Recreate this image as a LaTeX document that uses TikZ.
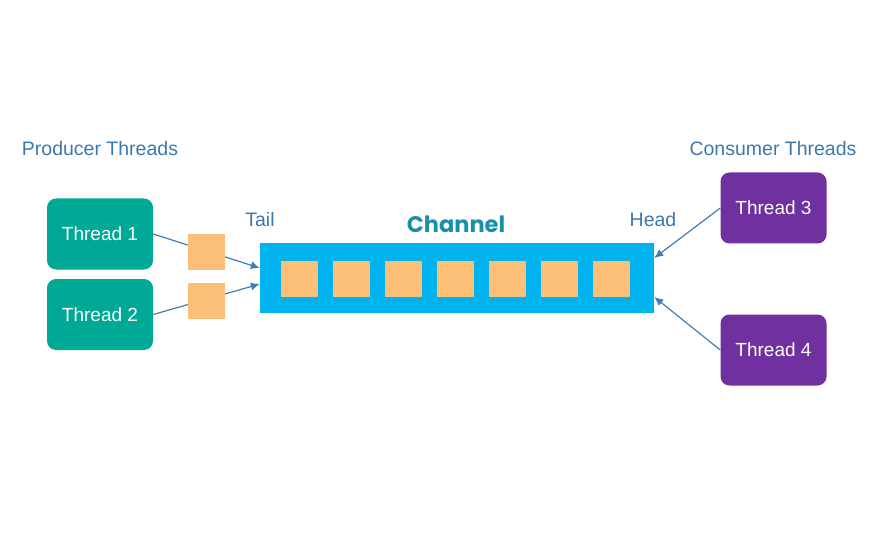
\documentclass[tikz,border=0pt]{standalone}
\usepackage{fontspec}
\setmainfont{Liberation Sans}
\newfontfamily\chfont{Poppins}
\usetikzlibrary{arrows.meta,backgrounds}
\definecolor{tealbox}{HTML}{00A896}
\definecolor{purplebox}{HTML}{7030A0}
\definecolor{chblue}{HTML}{00B2EE}
\definecolor{slot}{HTML}{FBBF78}
\definecolor{labelblue}{HTML}{3A78AF}
\definecolor{arrowblue}{HTML}{3F7DB2}
\definecolor{chtext}{HTML}{1A8FA8}
\tikzset{
  thread/.style={rounded corners=9pt, minimum width=106pt, minimum height=71pt, inner sep=0pt, text=white, font=\fontsize{19pt}{21pt}\selectfont},
  prod/.style={thread, fill=tealbox},
  cons/.style={thread, fill=purplebox},
  slotbox/.style={fill=slot, minimum width=37pt, minimum height=36pt, inner sep=0pt},
  lbl/.style={text=labelblue, font=\fontsize{19.5pt}{21pt}\selectfont, inner sep=0pt},
  conn/.style={draw=arrowblue, line width=1.2pt, -{Latex[length=9pt,width=8pt]}},
}
\begin{document}
\begin{tikzpicture}[x=1pt,y=-1pt]
\useasboundingbox (0,0) rectangle (880,553);
% labels
\node[lbl] (prodlbl) at (100,149) {Producer Threads};
\node[lbl] (conslbl) at (773,149) {Consumer Threads};
\node[lbl] (tail) at (260,220) {Tail};
\node[lbl] (head) at (653,220) {Head};
\node[inner sep=0pt, text=chtext, font=\chfont\bfseries\fontsize{22.5pt}{25pt}\selectfont] (chlbl) at (456,224) {Channel};
% threads
\node[prod] (t1) at (100,234) {Thread 1};
\node[prod] (t2) at (100,314.5) {Thread 2};
\node[cons] (t3) at (773.5,208) {Thread 3};
\node[cons] (t4) at (773.5,350) {Thread 4};
% channel
\node[fill=chblue, minimum width=394pt, minimum height=70pt, inner sep=0pt] (ch) at (457,278) {};
\foreach \i in {0,...,6} {
  \node[slotbox] (s\i) at (299.5+52*\i,279) {};
}
% incoming items
\node[slotbox] (p1) at (206.5,252) {};
\node[slotbox] (p2) at (206.5,301) {};
% connectors
\begin{pgfonlayer}{background}
\draw[conn] (t1.east) -- ([yshift=10pt]ch.west);
\draw[conn] (t2.east) -- ([yshift=-6pt]ch.west);
\end{pgfonlayer}
\draw[conn] (t3.west) -- ([yshift=20pt]ch.east);
\draw[conn] (t4.west) -- ([yshift=-19pt]ch.east);
\end{tikzpicture}
\end{document}
